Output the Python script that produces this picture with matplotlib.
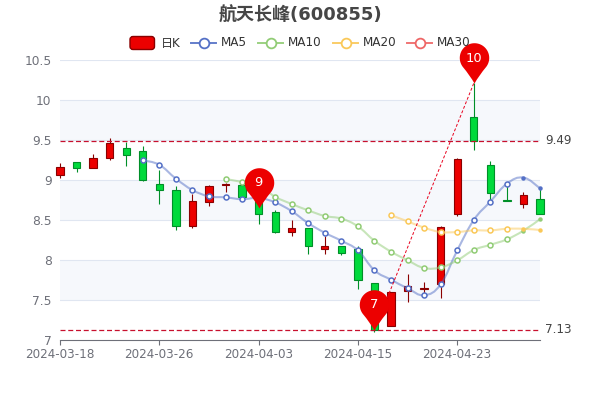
import numpy as np
import matplotlib
matplotlib.use('Agg')
import matplotlib.pyplot as plt
from matplotlib.path import Path
from matplotlib.patches import PathPatch, FancyBboxPatch

plt.rcParams['font.family'] = ['DejaVu Sans', 'Noto Sans CJK SC']

dates = ['2024-03-18', '2024-03-19', '2024-03-20', '2024-03-21', '2024-03-22', '2024-03-25',
         '2024-03-26', '2024-03-27', '2024-03-28', '2024-03-29', '2024-04-01', '2024-04-02',
         '2024-04-03', '2024-04-08', '2024-04-09', '2024-04-10', '2024-04-11', '2024-04-12',
         '2024-04-15', '2024-04-16', '2024-04-17', '2024-04-18', '2024-04-19', '2024-04-22',
         '2024-04-23', '2024-04-24', '2024-04-25', '2024-04-26', '2024-04-29', '2024-04-30']

opens = [9.06, 9.22, 9.15, 9.28, 9.40, 9.36, 8.95, 8.88, 8.42, 8.73, 8.94, 8.94, 8.78, 8.595, 8.35,
         8.396, 8.14, 8.18, 8.14, 7.71, 7.18, 7.617, 7.64, 7.70, 8.58, 9.79, 9.19, 8.75, 8.70, 8.76]
closes = [9.16, 9.15, 9.28, 9.46, 9.31, 9.00, 8.88, 8.42, 8.74, 8.92, 8.95, 8.79, 8.58, 8.35, 8.396,
          8.18, 8.18, 8.09, 7.755, 7.13, 7.60, 7.675, 7.654, 8.417, 9.267, 9.49, 8.84, 8.74, 8.81, 8.58]
lows = [9.02, 9.10, 9.15, 9.25, 9.17, 8.99, 8.70, 8.38, 8.40, 8.68, 8.85, 8.78, 8.45, 8.34, 8.30,
        8.07, 8.07, 8.06, 7.64, 7.10, 7.18, 7.48, 7.56, 7.53, 8.55, 9.37, 8.74, 8.74, 8.65, 8.57]
highs = [9.21, 9.22, 9.33, 9.52, 9.48, 9.425, 9.12, 8.93, 8.83, 8.94, 8.96, 8.95, 8.80, 8.625, 8.50,
         8.40, 8.30, 8.18, 8.18, 7.71, 7.60, 7.82, 7.72, 8.42, 9.27, 10.21, 9.24, 8.95, 8.85, 8.90]

ma5 = [9.246, 9.19, 9.017, 8.875, 8.796, 8.783, 8.76, 8.775, 8.72, 8.61, 8.46, 8.34, 8.24, 8.12, 7.87,
       7.754, 7.646, 7.56, 7.696, 8.12, 8.50, 8.73, 8.954, 9.03, 8.896]
ma10 = [9.0125, 8.975, 8.93, 8.79, 8.70, 8.62, 8.55, 8.517, 8.42, 8.24, 8.104, 7.996, 7.90, 7.908,
        7.996, 8.125, 8.19, 8.258, 8.367, 8.51]
ma20 = [8.56, 8.483, 8.404, 8.35, 8.35, 8.37, 8.37, 8.39, 8.39, 8.375]

pin_days = [12, 19, 25]
pin_values = [8.65, 7.13, 10.21]
pin_labels = ['9', '7', '10']
mark_levels = [9.49, 7.13]
y_ticks = [7, 7.5, 8, 8.5, 9, 9.5, 10, 10.5]

UP = '#ec0000'
UP_EDGE = '#8a0000'
DOWN = '#00da3c'
DOWN_EDGE = '#008f28'
AXIS = '#6e7079'
GRID = '#e0e6f1'


def smooth_path(xs, ys):
    # same idea as a smooth echarts line: bezier segments through each point
    xs = np.asarray(xs, dtype=float)
    ys = np.asarray(ys, dtype=float)
    verts = [(xs[0], ys[0])]
    codes = [Path.MOVETO]
    n = len(xs)
    for i in range(n - 1):
        prev_i = max(i - 1, 0)
        next_i = min(i + 2, n - 1)
        c1 = (xs[i] + (xs[i + 1] - xs[prev_i]) / 5, ys[i] + (ys[i + 1] - ys[prev_i]) / 5)
        c2 = (xs[i + 1] - (xs[next_i] - xs[i]) / 5, ys[i + 1] - (ys[next_i] - ys[i]) / 5)
        verts += [c1, c2, (xs[i + 1], ys[i + 1])]
        codes += [Path.CURVE4] * 3
    return Path(verts, codes)


def pin_marker():
    # tip at the origin, head above it
    r = 14.7
    cy = 25.5
    t = np.radians(np.linspace(-38, 218, 50))
    verts = [(r * np.cos(a), cy + r * np.sin(a)) for a in t]
    codes = [Path.MOVETO] + [Path.LINETO] * 49
    verts += [(-4.5, 8), (0, 0), (4.5, 8), verts[0]]
    codes += [Path.CURVE3, Path.CURVE3, Path.CURVE3, Path.CURVE3]
    return Path(verts, codes)


fig = plt.figure(figsize=(6, 4), dpi=100)
ax = fig.add_axes([60 / 600, 60 / 400, 480 / 600, 280 / 400])
days = np.arange(len(dates))

for low_band, high_band in [(7.5, 8), (8.5, 9), (9.5, 10)]:
    ax.axhspan(low_band, high_band, color='#f6f8fc', lw=0, zorder=0)
for level in y_ticks[1:]:
    ax.axhline(level, color=GRID, lw=0.8, zorder=1)

for i in days:
    rising = closes[i] >= opens[i]
    edge = UP_EDGE if rising else DOWN_EDGE
    face = UP if rising else DOWN
    ax.vlines(i, lows[i], highs[i], color=edge, lw=0.8, zorder=2, clip_on=False)
    ax.bar(i, abs(closes[i] - opens[i]), bottom=min(opens[i], closes[i]), width=0.44,
           color=face, edgecolor=edge, linewidth=0.8, zorder=3, clip_on=False)

for start, values, color in [(5, ma5, '#5470c6'), (10, ma10, '#91cc75'), (20, ma20, '#fac858')]:
    xs = days[start:]
    ax.add_patch(PathPatch(smooth_path(xs, values), fc='none', ec=color, lw=1.5, alpha=0.5, zorder=4))
    ax.plot(xs[:-2], values[:-2], ls='none', marker='o', ms=3.6, mfc='white', mec=color, mew=1.1, zorder=5)
    ax.plot(xs[-2:], values[-2:], ls='none', marker='o', ms=3.2, mfc=color, mec='none', zorder=5, clip_on=False)

for level in mark_levels:
    ax.axhline(level, color='#c8102e', lw=0.9, ls=(0, (4, 2.2)), zorder=4)
    ax.annotate(str(level), (29, level), xytext=(3.5, 0), textcoords='offset points',
                va='center', ha='left', fontsize=8.64, color='#444444', annotation_clip=False)

ax.plot([pin_days[1], pin_days[2]], [pin_values[1], pin_values[2]], color='#e8001c', lw=0.7,
        ls=(0, (3, 2)), zorder=6)

for day, value, label in zip(pin_days, pin_values, pin_labels):
    ax.plot(day, value, marker=pin_marker(), ms=58, mfc=UP, mec='none', ls='none', zorder=7, clip_on=False)
    ax.annotate(label, (day, value), xytext=(0, 18), textcoords='offset points', ha='center',
                va='center', color='white', fontsize=9.4, zorder=8, annotation_clip=False)

ax.set_xlim(0, 29)
ax.set_ylim(7, 10.5)
ax.set_yticks(y_ticks)
ax.set_yticklabels([f'{v:g}' for v in y_ticks])
ax.set_xticks(days[::6])
ax.set_xticklabels(dates[::6])
ax.tick_params(axis='y', length=0, pad=6, labelsize=8.8, labelcolor=AXIS)
ax.tick_params(axis='x', length=3.6, width=0.8, color=AXIS, pad=2.4, labelsize=8.64, labelcolor=AXIS)
for side in ['top', 'left', 'right']:
    ax.spines[side].set_visible(False)
ax.spines['bottom'].set_color(AXIS)
ax.spines['bottom'].set_linewidth(0.8)
ax.set_axisbelow(False)

# title and legend sit on an overlay in pixel units
top = fig.add_axes([0, 0, 1, 1], facecolor='none')
top.set_xlim(0, 600)
top.set_ylim(400, 0)
top.axis('off')
top.text(300, 15.5, '航天长峰(600855)', ha='center', va='center', fontsize=13, fontweight='bold', color='#464646')

top.add_patch(FancyBboxPatch((130, 36.5), 24.5, 13, boxstyle='round,pad=0,rounding_size=3',
                             fc=UP, ec=UP_EDGE, lw=1))
top.text(161, 43, '日K', va='center', fontsize=8.64, color='#333333')
for x0, name, color in [(191, 'MA5', '#5470c6'), (258, 'MA10', '#91cc75'),
                        (333, 'MA20', '#fac858'), (407, 'MA30', '#ee6666')]:
    top.plot([x0, x0 + 25], [43, 43], color=color, lw=1.4, alpha=0.9)
    top.plot(x0 + 12.5, 43, marker='o', ms=7, mfc='white', mec=color, mew=1.3)
    top.text(x0 + 30, 43, name, va='center', fontsize=8.64, color='#333333')

fig.savefig('out.png', dpi=100, facecolor='white')
